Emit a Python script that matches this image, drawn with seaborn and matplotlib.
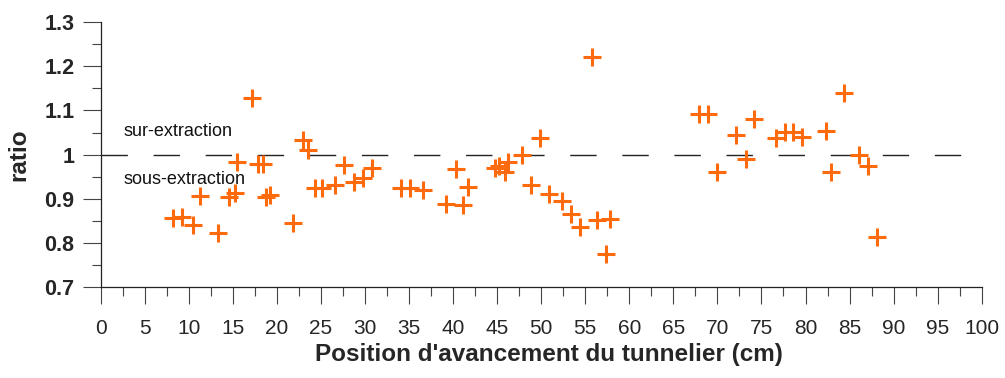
import numpy as np
import pandas as pd
import matplotlib
matplotlib.use("Agg")
import matplotlib.pyplot as plt
from matplotlib.ticker import MultipleLocator, FormatStrFormatter
import seaborn as sns

# Position d'avancement (cm) et ratio mesuré
position_cm = [8.24, 9.19, 10.48, 11.27, 13.35, 14.60, 15.24, 15.44, 17.21, 17.82,
               18.46, 18.76, 19.22, 21.86, 23.00, 23.56, 24.32, 25.09, 26.59, 27.62,
               28.79, 29.81, 30.83, 34.09, 35.11, 36.55, 39.19, 40.33, 41.16, 41.66,
               44.76, 45.24, 45.89, 46.27, 47.79, 48.84, 49.86, 50.89, 52.39, 53.38,
               54.40, 55.80, 56.30, 57.32, 57.81, 67.95, 68.97, 69.99, 72.15, 73.25,
               74.12, 76.65, 77.67, 78.55, 79.57, 82.36, 82.86, 84.37, 86.04, 87.06,
               88.08]
ratio = [0.855, 0.859, 0.839, 0.906, 0.823, 0.904, 0.913, 0.984, 1.128, 0.978,
         0.978, 0.904, 0.908, 0.845, 1.033, 1.010, 0.923, 0.923, 0.931, 0.976,
         0.938, 0.947, 0.969, 0.923, 0.923, 0.919, 0.888, 0.967, 0.885, 0.926,
         0.969, 0.974, 0.961, 0.984, 0.999, 0.932, 1.037, 0.910, 0.894, 0.865,
         0.835, 1.221, 0.851, 0.774, 0.854, 1.093, 1.093, 0.960, 1.044, 0.991,
         1.081, 1.037, 1.052, 1.052, 1.040, 1.053, 0.960, 1.140, 1.000, 0.975,
         0.812]

seuil = 1.0
x_ticks = list(range(0, 101, 5))
y_ticks = [0.7, 0.8, 0.9, 1.0, 1.1, 1.2, 1.3]

df = pd.DataFrame({"position": position_cm, "ratio": ratio})

sns.set_style("ticks")
plt.rcParams["font.family"] = ["Liberation Sans", "DejaVu Sans"]

fig = plt.figure(figsize=(10.05, 3.78), dpi=100)
ax = fig.add_axes([100.7 / 1005, 91.3 / 378, 881 / 1005, 264.3 / 378])

sns.scatterplot(data=df, x="position", y="ratio", marker="+", s=170,
                color="#ff6a0d", linewidth=2.2, ax=ax, zorder=3)

ax.axhline(seuil, color="#222222", lw=1.0, dashes=(19, 18.5), zorder=2)

ax.text(2.6, 1.052, "sur-extraction", fontsize=13, va="center", ha="left", color="#111111")
ax.text(2.6, 0.943, "sous-extraction", fontsize=13, va="center", ha="left", color="#111111")

ax.set_xlim(0, 100)
ax.set_ylim(0.7, 1.3)
ax.set_xticks(x_ticks)
ax.set_yticks(y_ticks)
ax.xaxis.set_minor_locator(MultipleLocator(2.5))
ax.yaxis.set_minor_locator(MultipleLocator(0.05))
ax.yaxis.set_major_formatter(FormatStrFormatter("%g"))

ax.tick_params(axis="y", which="major", length=13, width=0.8, pad=6,
               labelsize=15.5, color="#444444")
ax.tick_params(axis="y", which="minor", length=6.5, width=0.8, color="#444444")
ax.tick_params(axis="x", which="major", length=12, width=0.8, pad=11,
               labelsize=15, color="#444444")
ax.tick_params(axis="x", which="minor", length=6.5, width=0.8, color="#444444")
for lab in ax.get_yticklabels():
    lab.set_fontweight("bold")

ax.set_xlabel("Position d'avancement du tunnelier (cm)", fontsize=17.5,
              fontweight="bold", va="center")
ax.xaxis.set_label_coords(0.509, -0.257)
ax.set_ylabel("ratio", fontsize=17.5, fontweight="bold", labelpad=10)

sns.despine(ax=ax)
for sp in ["left", "bottom"]:
    ax.spines[sp].set_linewidth(0.9)
    ax.spines[sp].set_color("#222222")

fig.savefig("out.png", dpi=100)
